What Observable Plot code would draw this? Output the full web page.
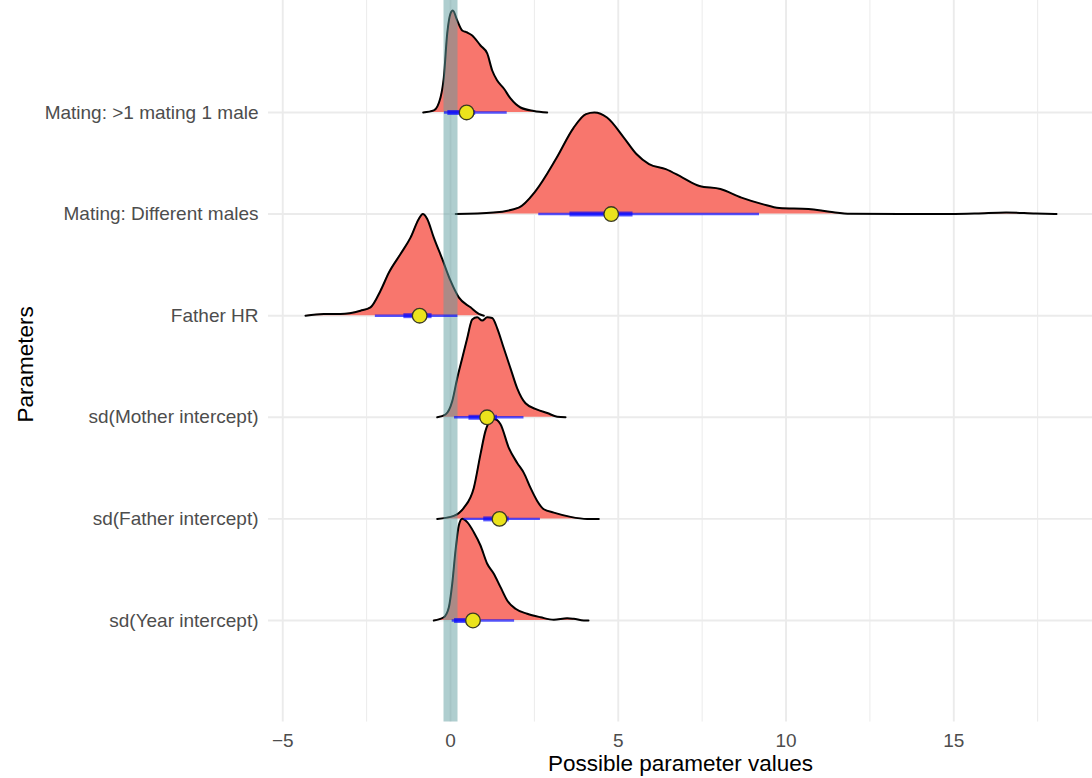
<!DOCTYPE html>
<html>
<head>
<meta charset="utf-8">
<script src="https://cdn.jsdelivr.net/npm/d3@7"></script>
<script src="https://cdn.jsdelivr.net/npm/@observablehq/plot@0.6"></script>
<style>
  html, body { margin: 0; padding: 0; background: #ffffff; }
  #chart svg { display: block; }
</style>
</head>
<body>
<div id="chart"></div>
<script>
// Parameters, bottom (1) to top (6)
const parameters = [
  "sd(Year intercept)",
  "sd(Father intercept)",
  "sd(Mother intercept)",
  "Father HR",
  "Mating: Different males",
  "Mating: >1 mating 1 male"
];

const xTicks = [-5, 0, 5, 10, 15];
const xMinorTicks = [-2.5, 2.5, 7.5, 12.5, 17.5];

// Density ridges (x values and scaled heights, 1 = one row spacing)
const yearX = [-0.498, -0.200, -0.051, 0.051, 0.149, 0.247, 0.349, 0.498, 0.694, 0.894, 1.094, 1.291, 1.490, 1.690, 1.937, 2.286, 2.683, 3.079, 3.478, 3.675, 3.973, 4.113];
const yearH = [0, 0.032, 0.128, 0.361, 0.689, 0.935, 1.001, 0.968, 0.869, 0.738, 0.558, 0.460, 0.328, 0.197, 0.115, 0.066, 0.032, 0.007, 0.023, 0.017, 0, 0];

const fatherIntX = [-0.396, 0.098, 0.396, 0.694, 0.894, 1.043, 1.192, 1.311, 1.490, 1.738, 1.988, 2.185, 2.385, 2.584, 2.781, 3.079, 3.577, 4.075, 4.420];
const fatherIntH = [0, 0.030, 0.108, 0.305, 0.637, 0.866, 0.965, 0.981, 0.932, 0.699, 0.551, 0.453, 0.305, 0.177, 0.095, 0.062, 0.020, 0, 0];

const motherX = [-0.396, -0.149, 0.051, 0.200, 0.349, 0.498, 0.647, 0.796, 0.945, 1.094, 1.243, 1.392, 1.589, 1.788, 1.988, 2.235, 2.584, 2.882, 3.180, 3.428];
const motherH = [0, 0.027, 0.157, 0.384, 0.581, 0.778, 0.962, 0.984, 0.952, 0.984, 0.977, 0.876, 0.679, 0.482, 0.285, 0.138, 0.076, 0.042, 0.005, 0];

const fatherHRX = [-4.322, -3.776, -3.279, -2.683, -2.385, -2.086, -1.839, -1.490, -1.192, -0.945, -0.826, -0.694, -0.498, -0.247, 0, 0.247, 0.596, 0.844, 0.993];
const fatherHRH = [0, 0.017, 0.017, 0.049, 0.082, 0.246, 0.423, 0.607, 0.768, 0.952, 1.001, 0.952, 0.768, 0.558, 0.344, 0.180, 0.082, 0.017, 0];

const diffMalesX = [0.155, 1.282, 2.033, 2.534, 3.159, 3.663, 4.039, 4.289, 4.665, 5.165, 5.541, 5.917, 6.417, 6.915, 7.419, 8.045, 8.671, 9.297, 9.798, 10.671, 11.297, 11.923, 13.413, 14.903, 15.678, 16.560, 17.437, 18.063];
const diffMalesH = [0, 0.015, 0.064, 0.226, 0.551, 0.846, 0.984, 0.999, 0.950, 0.753, 0.591, 0.492, 0.443, 0.359, 0.276, 0.246, 0.162, 0.098, 0.059, 0.049, 0.023, 0.003, 0, 0, 0.005, 0.016, 0.005, 0];

const oneMaleX = [-0.814, -0.498, -0.298, -0.200, -0.098, 0, 0.069, 0.200, 0.349, 0.498, 0.647, 0.894, 1.094, 1.243, 1.392, 1.589, 1.788, 2.086, 2.483, 2.882];
const oneMaleH = [0, 0.020, 0.148, 0.344, 0.778, 0.974, 1.004, 0.906, 0.807, 0.787, 0.758, 0.659, 0.581, 0.413, 0.315, 0.236, 0.138, 0.049, 0.015, 0];

// Point intervals (median, 66% and 95% intervals), same order as parameters
const medians = [0.67, 1.46, 1.09, -0.92, 4.79, 0.48];
const thinLo  = [0.05, 0.40, 0.12, -2.24, 2.63, -0.18];
const thinHi  = [1.91, 2.68, 2.19, 0.22, 9.21, 1.69];
const thickLo = [0.12, 0.99, 0.55, -1.39, 3.56, -0.08];
const thickHi = [0.90, 1.75, 1.40, -0.55, 5.44, 0.75];

const ridgeX = [yearX, fatherIntX, motherX, fatherHRX, diffMalesX, oneMaleX];
const ridgeH = [yearH, fatherIntH, motherH, fatherHRH, diffMalesH, oneMaleH];

const rowIdx = parameters.map((_, i) => i + 1);
const intervals = parameters.map((p, i) => ({
  y: i + 1, med: medians[i], lo95: thinLo[i], hi95: thinHi[i], lo66: thickLo[i], hi66: thickHi[i]
}));

const marks = [];
marks.push(Plot.ruleX(xMinorTicks, {stroke: "#ebebeb", strokeWidth: 1}));
marks.push(Plot.ruleX(xTicks, {stroke: "#ebebeb", strokeWidth: 1.9}));
marks.push(Plot.ruleY(rowIdx, {stroke: "#ebebeb", strokeWidth: 1.9}));

// draw ridges from top to bottom so lower ones overlay upper ones
for (let i = parameters.length - 1; i >= 0; i--) {
  const rows = ridgeX[i].map((x, j) => ({x, y1: i + 1, y2: i + 1 + ridgeH[i][j]}));
  marks.push(Plot.areaY(rows, {x: "x", y1: "y1", y2: "y2", fill: "#F8766D", curve: "monotone-x"}));
  marks.push(Plot.line(rows, {x: "x", y: "y2", stroke: "black", strokeWidth: 2, curve: "monotone-x"}));
}

// reference band at zero
marks.push(Plot.ruleX([0], {stroke: "cadetblue", strokeOpacity: 0.5, strokeWidth: 14}));

// intervals and points
marks.push(Plot.ruleY(intervals, {y: "y", x1: "lo95", x2: "hi95", stroke: "blue", strokeOpacity: 0.65, strokeWidth: 2.4}));
marks.push(Plot.ruleY(intervals, {y: "y", x1: "lo66", x2: "hi66", stroke: "blue", strokeOpacity: 0.65, strokeWidth: 5}));
marks.push(Plot.dot(intervals, {x: "med", y: "y", r: 7.3, fill: "#ebe31c", stroke: "#3a3a22", strokeWidth: 1.3}));

// axes
marks.push(Plot.axisX(xTicks, {tickSize: 0, tickPadding: 11, fontSize: 19, color: "#4d4d4d", label: null}));
marks.push(Plot.axisY(rowIdx, {tickSize: 0, tickPadding: 10, fontSize: 19, color: "#4d4d4d", label: null,
  tickFormat: d => parameters[d - 1]}));
marks.push(Plot.text(["Possible parameter values"], {text: d => d, frameAnchor: "bottom", dy: 42,
  lineAnchor: "middle", textAnchor: "middle", fontSize: 22.5, fill: "black"}));
marks.push(Plot.text(["Parameters"], {text: d => d, frameAnchor: "left", dx: -243, dy: 3, rotate: -90,
  lineAnchor: "middle", textAnchor: "middle", fontSize: 22.5, fill: "black"}));

const chart = Plot.plot({
  width: 1092,
  height: 778,
  marginLeft: 268,
  marginRight: 0,
  marginTop: 0,
  marginBottom: 56.4,
  style: {fontFamily: "'Liberation Sans', Arial, Helvetica, sans-serif", background: "#ffffff"},
  x: {domain: [-5.425, 19.135]},
  y: {domain: [0, 7.102]},
  marks
});
document.getElementById("chart").appendChild(chart);
</script>
</body>
</html>
